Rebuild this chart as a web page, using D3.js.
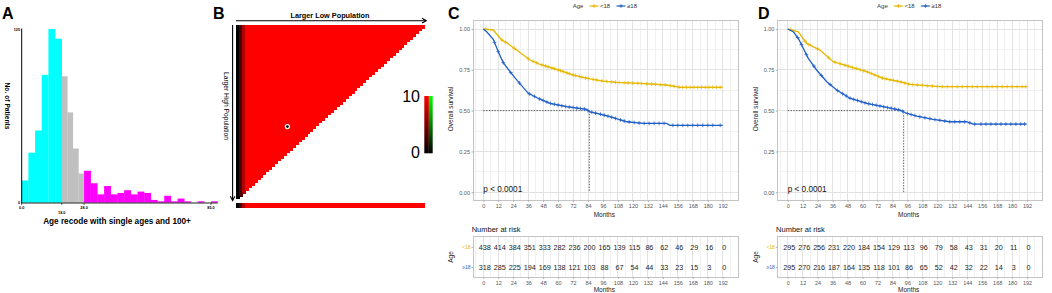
<!DOCTYPE html>
<html>
<head>
<meta charset="utf-8">
<script src="https://cdn.jsdelivr.net/npm/d3@7"></script>
<style>
body{margin:0;background:#fff;}
svg{display:block;font-family:'Liberation Sans',Arial,sans-serif;}
</style>
</head>
<body>
<svg id="fig" width="1052" height="293"></svg>
<script>
// ---- panel A : age histogram
var ageBinStart = [0,3,6,9,12,15,18,20.5,23,25.5,28,31,34,37,40,43,46,49,52,55,58,61,64,67,70,73,76,79,82,85];
var ageBinCount = [16,36,52,92,125,118,91,65,39,21,23,14,6,12,6,7,9,6,8,7,2,1,5,1,3,1,0,1,0,1];
var ageBinLast = 88;
var ageCuts = [18,28];
var ageTicks = [0,18,28,85];

// ---- panel B : x-tile
var xtileSize = 64;
var xtileEdge = [0,3,7];     // first columns, 0..10 scale
var xtileMax = 10;
var xtileBest = [17,37];     // col,row

// ---- panels C / D : KM curves
var riskTimes = [0,12,24,36,48,60,72,84,96,108,120,132,144,156,168,180,192];

var kmC_lt18_t = [0,8,14.7,18.7,26.8,37.4,45.5,58.8,72.2,85.6,96.2,107,125.7,147,157.7,192];
var kmC_lt18_s = [1,0.994,0.933,0.916,0.871,0.81,0.784,0.753,0.718,0.694,0.681,0.673,0.667,0.657,0.643,0.643];
var kmC_ge18_t = [0,2.7,8,12,16,21.4,27.3,36.1,45.5,53.5,66.8,82.9,85,93.6,101.6,115,128.3,147,149.7,192];
var kmC_ge18_s = [1,0.983,0.937,0.861,0.794,0.739,0.684,0.606,0.57,0.545,0.524,0.508,0.494,0.479,0.463,0.432,0.422,0.422,0.41,0.41];
var kmD_lt18_t = [0,8.5,15.2,25.9,36.5,49.9,63.3,76.6,90,98,111.4,122,191.5];
var kmD_lt18_s = [1,0.983,0.912,0.871,0.8,0.769,0.739,0.698,0.677,0.661,0.653,0.647,0.647];
var kmD_ge18_t = [0,4.5,8.5,12.5,16.5,23.2,31.3,39.3,49.9,63.3,76.6,90,95.4,103.4,116.7,130,143.4,148.7,191.5];
var kmD_ge18_s = [1,0.983,0.943,0.882,0.82,0.749,0.677,0.626,0.576,0.545,0.524,0.504,0.484,0.467,0.447,0.432,0.432,0.418,0.418];

var censC_lt18 = [2,15,18,25,36,40,43,47,50,52,55,57,60,62,64,67,69,72,74,77,79,82,84,88,91,95,99,103,106,109,113,116,120,124,127,131,135,138,142,146,150,153,157,160,163,166,169,172,175,178,181,184,187,190];
var censC_ge18 = [9,12,16,22,29,37,41,45,48,51,54,57,60,63,66,69,72,75,78,81,84,87,90,94,97,100,103,106,110,113,117,121,125,129,133,137,141,145,152,156,160,164,168,172,176,180,184,190];
var censD_lt18 = [2,14,17,24,33,38,42,46,49,52,55,58,61,64,67,70,73,76,79,82,85,88,91,94,97,100,104,108,112,116,120,124,128,132,136,140,144,148,152,156,160,164,168,172,176,180,184,188,191];
var censD_ge18 = [8,11,15,21,27,34,40,44,47,50,53,56,59,62,65,68,71,74,77,80,83,86,89,92,96,99,102,106,110,114,118,122,126,130,134,138,142,146,150,155,159,163,167,171,175,179,183,187,190];

var riskC_lt18 = [438,414,384,351,333,282,236,200,165,139,115,86,62,46,29,16,0];
var riskC_ge18 = [318,285,225,194,169,138,121,103,88,67,54,44,33,23,15,3,0];
var riskD_lt18 = [295,276,256,231,220,184,154,129,113,96,79,58,43,31,20,11,0];
var riskD_ge18 = [295,270,216,187,164,135,118,101,86,65,52,42,32,22,14,3,0];

var medianC = 85, medianD = 93;
var groupNames = ['<18','\u226518'];
var colYellow = '#E7B800', colBlue = '#1F5FC8';

var svg = d3.select('#fig');

// panel letters
[['A',2],['B',213],['C',448],['D',758]].forEach(function(p){
	svg.append('text').attr('x',p[1]).attr('y',19).text(p[0])
		.attr('font-size',16).attr('font-weight','bold').attr('font-family','Liberation Sans,Arial,sans-serif');
});

// ================= A
(function(){
	var xA = d3.scaleLinear().domain([0,85]).range([21.7,211]);
	var yA = d3.scaleLinear().domain([0,125]).range([202.7,29]);
	var g = svg.append('g');
	var bins = ageBinStart.map(function(s,i){
		return {s:s, e:(i<ageBinStart.length-1?ageBinStart[i+1]:ageBinLast), n:ageBinCount[i]};
	});
	g.selectAll('rect.bar').data(bins).enter().append('rect')
		.attr('x',d=>xA(d.s)).attr('width',d=>xA(d.e)-xA(d.s)+0.2)
		.attr('y',d=>yA(d.n)).attr('height',d=>yA(0)-yA(d.n))
		.attr('fill',d=> d.s<ageCuts[0]?'#00FFFF':(d.s<ageCuts[1]?'#C0C0C0':'#FF00FF'));
	g.append('line').attr('x1',21.7).attr('x2',21.7).attr('y1',28.5).attr('y2',203.2).attr('stroke','#000').attr('stroke-width',1);
	g.append('line').attr('x1',21.2).attr('x2',xA(ageBinLast)).attr('y1',203).attr('y2',203).attr('stroke','#222').attr('stroke-width',1.2);
	g.append('text').attr('x',20).attr('y',30.5).attr('text-anchor','end').attr('font-size',3.8).attr('font-weight','bold').text('125');
	g.append('text').attr('x',20).attr('y',204).attr('text-anchor','end').attr('font-size',3.8).attr('font-weight','bold').text('0');
	ageTicks.forEach(function(t,i){
		g.append('line').attr('x1',xA(t)).attr('x2',xA(t)).attr('y1',203).attr('y2',205).attr('stroke','#000').attr('stroke-width',0.6);
		g.append('text').attr('x',xA(t)).attr('y',t===ageCuts[0]?213.8:209.2).attr('text-anchor','middle')
			.attr('font-size',3.8).attr('font-weight','bold').text(t.toFixed(1));
	});
	g.append('text').attr('x',117).attr('y',224).attr('text-anchor','middle')
		.attr('font-size',8.2).attr('font-weight','bold').text('Age recode with single ages and 100+');
	g.append('text').attr('transform','translate(4.5,106) rotate(90)').attr('text-anchor','middle')
		.attr('font-size',7.5).attr('font-weight','bold').attr('textLength',47).attr('lengthAdjust','spacingAndGlyphs')
		.text('No. of Patients');
})();

// ================= B
(function(){
	var g = svg.append('g');
	var cols = d3.range(xtileSize);
	var bx = d3.scaleBand().domain(cols).range([236,424]);
	var by = d3.scaleBand().domain(cols).range([25,198.3]);
	var col = d3.scaleLinear().domain([0,xtileMax]).range(['#000000','#FF0000']);
	var val = c => c<xtileEdge.length ? xtileEdge[c] : xtileMax;
	var cells = [];
	cols.forEach(function(r){
		cols.forEach(function(c){ if(c + r < xtileSize) cells.push({r:r,c:c}); });
	});
	var cg = g.append('g').attr('shape-rendering','crispEdges');
	cg.selectAll('rect.cell').data(cells).enter().append('rect')
		.attr('x',d=>bx(d.c)).attr('y',d=>by(d.r))
		.attr('width',bx.bandwidth()+1).attr('height',by.bandwidth()+1)
		.attr('fill',d=>col(val(d.c)));
	cg.selectAll('rect.strip').data(cols).enter().append('rect')
		.attr('x',d=>bx(d)).attr('y',202.7).attr('width',bx.bandwidth()+1).attr('height',5.6)
		.attr('fill',d=>col(val(d)));
	g.append('circle').attr('cx',bx(xtileBest[0])+bx.bandwidth()/2).attr('cy',by(xtileBest[1])+by.bandwidth()/2)
		.attr('r',2.6).attr('fill','#fff');
	g.append('circle').attr('cx',bx(xtileBest[0])+bx.bandwidth()/2).attr('cy',by(xtileBest[1])+by.bandwidth()/2)
		.attr('r',1.4).attr('fill','#000');
	// arrows
	g.append('line').attr('x1',236).attr('x2',426).attr('y1',20.7).attr('y2',20.7).attr('stroke','#000').attr('stroke-width',1.1);
	g.append('path').attr('d','M422,18.3 L426.3,20.7 L422,23.1').attr('fill','none').attr('stroke','#000').attr('stroke-width',1.1);
	g.append('line').attr('x1',232.6).attr('x2',232.6).attr('y1',25).attr('y2',200.5).attr('stroke','#000').attr('stroke-width',1.1);
	g.append('path').attr('d','M230.3,196.2 L232.6,200.6 L234.9,196.2').attr('fill','none').attr('stroke','#000').attr('stroke-width',1.1);
	g.append('text').attr('x',330).attr('y',17.6).attr('text-anchor','middle').attr('font-size',7.3).attr('font-weight','bold')
		.text('Larger Low Population');
	g.append('text').attr('transform','translate(224.2,106) rotate(90)').attr('text-anchor','middle')
		.attr('font-size',7.6).attr('textLength',68).attr('lengthAdjust','spacingAndGlyphs').text('Larger High Population');
	// colour bar
	var defs = svg.append('defs');
	[['gRed','#FF0000'],['gGreen','#00FF00']].forEach(function(p){
		var lg = defs.append('linearGradient').attr('id',p[0]).attr('x1',0).attr('x2',0).attr('y1',0).attr('y2',1);
		lg.append('stop').attr('offset','0%').attr('stop-color',p[1]);
		lg.append('stop').attr('offset','100%').attr('stop-color','#000');
	});
	g.append('rect').attr('x',424.3).attr('y',96).attr('width',4.6).attr('height',57.3).attr('fill','url(#gRed)');
	g.append('rect').attr('x',428.9).attr('y',96).attr('width',3.8).attr('height',57.3).attr('fill','url(#gGreen)');
	g.append('text').attr('x',420).attr('y',101.5).attr('text-anchor','end').attr('font-size',16).text(xtileMax);
	g.append('text').attr('x',420).attr('y',158).attr('text-anchor','end').attr('font-size',16).text('0');
})();

// ================= C / D
function survAt(ts, ss, t){
	for (var i=0;i<ts.length-1;i++){
		if (t>=ts[i] && t<=ts[i+1]) return ss[i]+(ss[i+1]-ss[i])*(t-ts[i])/(ts[i+1]-ts[i]);
	}
	return ss[ss.length-1];
}

function drawKM(dx, curves, median, risks){
	var g = svg.append('g');
	var pL = 473.5+dx, pR = 738+dx, pT = 20.7, pB = 200;
	var x = d3.scaleLinear().domain([0,192]).range([483.3+dx,722.7+dx]);
	var y = d3.scaleLinear().domain([0,1]).range([192.3,29]);
	var minorX = [-6].concat(riskTimes.map(t=>t+6)).filter(t=>x(t)>pL && x(t)<pR);
	var majY = [0,0.25,0.5,0.75,1], minY = [0.125,0.375,0.625,0.875];

	// legend
	var lg = g.append('g').attr('font-size',6).attr('fill','#333');
	lg.append('text').attr('x',578+dx).attr('y',8).attr('text-anchor','middle').text('Age');
	[[594,colYellow,groupNames[0],600],[621,colBlue,groupNames[1],627]].forEach(function(l){
		lg.append('line').attr('x1',l[0]+dx-4.5).attr('x2',l[0]+dx+4.5).attr('y1',6).attr('y2',6).attr('stroke',l[1]).attr('stroke-width',1.2);
		lg.append('path').attr('d',`M${l[0]+dx-1.8},6 h3.6 M${l[0]+dx},4.2 v3.6`).attr('stroke',l[1]).attr('stroke-width',0.9);
		lg.append('text').attr('x',l[3]+dx).attr('y',8).text(l[2]);
	});

	// grid
	var gr = g.append('g').attr('shape-rendering','crispEdges');
	gr.selectAll('.mnx').data(minorX).enter().append('line')
		.attr('x1',d=>x(d)).attr('x2',d=>x(d)).attr('y1',pT).attr('y2',pB).attr('stroke','#f1f1f1');
	gr.selectAll('.mny').data(minY).enter().append('line')
		.attr('x1',pL).attr('x2',pR).attr('y1',d=>y(d)).attr('y2',d=>y(d)).attr('stroke','#f1f1f1');
	gr.selectAll('.mjx').data(riskTimes).enter().append('line')
		.attr('x1',d=>x(d)).attr('x2',d=>x(d)).attr('y1',pT).attr('y2',pB).attr('stroke','#e2e2e2');
	gr.selectAll('.mjy').data(majY).enter().append('line')
		.attr('x1',pL).attr('x2',pR).attr('y1',d=>y(d)).attr('y2',d=>y(d)).attr('stroke','#e2e2e2');
	gr.append('rect').attr('x',pL).attr('y',pT).attr('width',pR-pL).attr('height',pB-pT)
		.attr('fill','none').attr('stroke','#c4c4c4');

	// axes
	var ay = g.append('g').attr('transform',`translate(${pL},0)`)
		.call(d3.axisLeft(y).tickValues(majY).tickFormat(d3.format('.2f')).tickSize(2).tickPadding(1.5));
	var ax = g.append('g').attr('transform',`translate(0,${pB})`)
		.call(d3.axisBottom(x).tickValues(riskTimes).tickSize(2).tickPadding(2));
	[ay,ax].forEach(function(a){
		a.select('.domain').remove();
		a.selectAll('line').attr('stroke','#b3b3b3');
		a.selectAll('text').attr('font-size',5.5).attr('fill','#555').attr('font-family','Liberation Sans,Arial,sans-serif');
	});
	g.append('text').attr('x',604.3+dx).attr('y',216.6).attr('text-anchor','middle').attr('font-size',6.5).attr('fill','#222').text('Months');
	g.append('text').attr('transform',`translate(${453.2+dx},109) rotate(-90)`).attr('text-anchor','middle')
		.attr('font-size',6.5).attr('fill','#222').text('Overall survival');

	// median lines
	g.append('path').attr('d',`M${x(0)},${y(0.5)} H${x(median)} V${y(0)}`)
		.attr('fill','none').attr('stroke','#333').attr('stroke-width',0.8).attr('stroke-dasharray','1.4,1.4');

	// curves
	var line = d3.line().x(d=>x(d[0])).y(d=>y(d[1]));
	curves.forEach(function(c){
		var pts = c.t.map((t,i)=>[t,c.s[i]]);
		g.append('path').attr('d',line(pts)).attr('fill','none').attr('stroke',c.color).attr('stroke-width',1.3);
		var cg = g.append('g').attr('stroke',c.color).attr('stroke-width',0.9).attr('opacity',0.85);
		cg.selectAll('path').data(c.cens).enter().append('path')
			.attr('d',function(t){ var px=x(t), py=y(survAt(c.t,c.s,t)); return `M${px-1.9},${py} h3.8 M${px},${py-1.9} v3.8`; });
	});

	g.append('text').attr('x',483.3+dx).attr('y',192).attr('font-size',8.2).attr('fill','#111').text('p < 0.0001');

	// risk table
	var tT = 236.5, tB = 277;
	var rowY = [247.3, 267.5];
	g.append('text').attr('x',471.7+dx).attr('y',232).attr('font-size',7.5).attr('fill','#111').text('Number at risk');
	var tg = g.append('g').attr('shape-rendering','crispEdges');
	tg.selectAll('.tmn').data(minorX).enter().append('line')
		.attr('x1',d=>x(d)).attr('x2',d=>x(d)).attr('y1',tT).attr('y2',tB).attr('stroke','#f1f1f1');
	tg.selectAll('.tmj').data(riskTimes).enter().append('line')
		.attr('x1',d=>x(d)).attr('x2',d=>x(d)).attr('y1',tT).attr('y2',tB).attr('stroke','#e2e2e2');
	tg.append('rect').attr('x',pL).attr('y',tT).attr('width',pR-pL).attr('height',tB-tT)
		.attr('fill','none').attr('stroke','#c4c4c4');
	var tx = g.append('g').attr('transform',`translate(0,${tB})`)
		.call(d3.axisBottom(x).tickValues(riskTimes).tickSize(2).tickPadding(2));
	tx.select('.domain').remove();
	tx.selectAll('line').attr('stroke','#b3b3b3');
	tx.selectAll('text').attr('font-size',5.5).attr('fill','#555').attr('font-family','Liberation Sans,Arial,sans-serif');
	g.append('text').attr('x',604.3+dx).attr('y',291.8).attr('text-anchor','middle').attr('font-size',6.5).attr('fill','#222').text('Months');
	g.append('text').attr('transform',`translate(${453.2+dx},257) rotate(-90)`).attr('text-anchor','middle')
		.attr('font-size',6.5).attr('fill','#222').text('Age');
	risks.forEach(function(r,i){
		g.append('line').attr('x1',pL-2).attr('x2',pL).attr('y1',rowY[i]).attr('y2',rowY[i]).attr('stroke','#b3b3b3');
		g.append('text').attr('x',pL-3).attr('y',rowY[i]).attr('dy','0.35em').attr('text-anchor','end')
			.attr('font-size',5).attr('fill',curves[i].color).text(groupNames[i]);
		g.selectAll(null).data(r).enter().append('text')
			.attr('x',(d,j)=>x(riskTimes[j])+1.5).attr('y',rowY[i]).attr('dy','0.35em').attr('text-anchor','middle')
			.attr('font-size',7.2).attr('fill','#222').text(d=>d);
	});
}

drawKM(0, [
	{t:kmC_lt18_t, s:kmC_lt18_s, cens:censC_lt18, color:colYellow},
	{t:kmC_ge18_t, s:kmC_ge18_s, cens:censC_ge18, color:colBlue}
], medianC, [riskC_lt18, riskC_ge18]);

drawKM(304.4, [
	{t:kmD_lt18_t, s:kmD_lt18_s, cens:censD_lt18, color:colYellow},
	{t:kmD_ge18_t, s:kmD_ge18_s, cens:censD_ge18, color:colBlue}
], medianD, [riskD_lt18, riskD_ge18]);
</script>
</body>
</html>
